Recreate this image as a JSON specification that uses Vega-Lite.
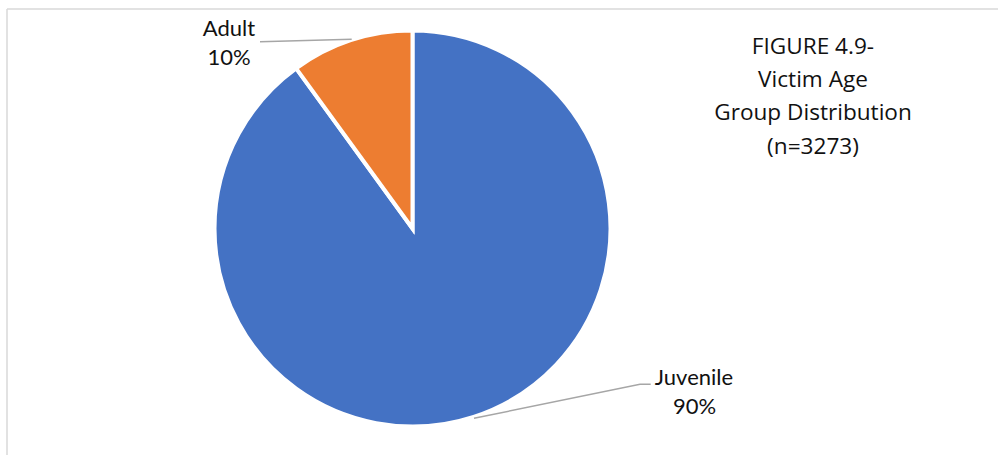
{
  "$schema": "https://vega.github.io/schema/vega-lite/v6.json",
  "width": 825,
  "height": 451,
  "autosize": {"type": "none"},
  "padding": {"left": 0, "top": 3, "right": 173, "bottom": 1},
  "background": "white",
  "config": {"view": {"stroke": null}},
  "datasets": {
    "slices": [
      {"group": "Juvenile", "value": 90},
      {"group": "Adult", "value": 10}
    ],
    "border": [
      {"side": "top", "x": -2.0689, "y": 1.1199, "x2": 2.99, "y2": 1.1199},
      {"side": "left", "x": -2.0689, "y": 1.1199, "x2": -2.0689, "y2": -1.17}
    ],
    "leaders": [
      {"grp": "Adult", "seq": 1, "x": -0.7781, "y": 0.9531},
      {"grp": "Adult", "seq": 2, "x": -0.3102, "y": 0.9653},
      {"grp": "Juvenile", "seq": 1, "x": 0.3138, "y": -0.9684},
      {"grp": "Juvenile", "seq": 2, "x": 1.1607, "y": -0.7949},
      {"grp": "Juvenile", "seq": 3, "x": 1.2153, "y": -0.7949}
    ],
    "labels": [
      {"text": "Adult", "x": -0.9362, "y": 1.0179},
      {"text": "10%", "x": -0.9362, "y": 0.8699},
      {"text": "Juvenile", "x": 1.4362, "y": -0.7628},
      {"text": "90%", "x": 1.4388, "y": -0.9107}
    ],
    "title": [
      {"text": "FIGURE 4.9-", "x": 2.0434, "y": 0.926},
      {"text": "Victim Age", "x": 2.0434, "y": 0.7577},
      {"text": "Group Distribution", "x": 2.0434, "y": 0.5893},
      {"text": "(n=3273)", "x": 2.0434, "y": 0.4158}
    ]
  },
  "layer": [
    {
      "data": {"name": "border"},
      "mark": {"type": "rule", "color": "#d9d9d9", "strokeWidth": 1.5},
      "encoding": {
        "x": {"field": "x", "type": "quantitative", "scale": {"domain": [-2.1046, 2.1046], "nice": false, "zero": false}, "axis": null},
        "y": {"field": "y", "type": "quantitative", "scale": {"domain": [-1.1505, 1.1505], "nice": false, "zero": false}, "axis": null},
        "x2": {"field": "x2"},
        "y2": {"field": "y2"}
      }
    },
    {
      "data": {"name": "slices"},
      "mark": {"type": "arc", "outerRadius": 198, "stroke": "white", "strokeWidth": 4},
      "encoding": {
        "theta": {"field": "value", "type": "quantitative", "stack": true},
        "order": {"field": "value", "type": "quantitative", "sort": "descending"},
        "color": {
          "field": "group",
          "type": "nominal",
          "scale": {"domain": ["Juvenile", "Adult"], "range": ["#4472C4", "#ED7D31"]},
          "legend": null
        }
      }
    },
    {
      "data": {"name": "leaders"},
      "mark": {"type": "line", "color": "#a6a6a6", "strokeWidth": 1.5},
      "encoding": {
        "x": {"field": "x", "type": "quantitative", "scale": {"domain": [-2.1046, 2.1046], "nice": false, "zero": false}, "axis": null},
        "y": {"field": "y", "type": "quantitative", "scale": {"domain": [-1.1505, 1.1505], "nice": false, "zero": false}, "axis": null},
        "detail": {"field": "grp", "type": "nominal"},
        "order": {"field": "seq", "type": "quantitative"}
      }
    },
    {
      "data": {"name": "labels"},
      "mark": {"type": "text", "font": "Lato", "fontSize": 22, "color": "#111111", "align": "center", "baseline": "middle"},
      "encoding": {
        "x": {"field": "x", "type": "quantitative", "scale": {"domain": [-2.1046, 2.1046], "nice": false, "zero": false}, "axis": null},
        "y": {"field": "y", "type": "quantitative", "scale": {"domain": [-1.1505, 1.1505], "nice": false, "zero": false}, "axis": null},
        "text": {"field": "text", "type": "nominal"}
      }
    },
    {
      "data": {"name": "title"},
      "mark": {"type": "text", "font": "Open Sans", "fontSize": 22.6, "color": "#111111", "align": "center", "baseline": "middle"},
      "encoding": {
        "x": {"field": "x", "type": "quantitative", "scale": {"domain": [-2.1046, 2.1046], "nice": false, "zero": false}, "axis": null},
        "y": {"field": "y", "type": "quantitative", "scale": {"domain": [-1.1505, 1.1505], "nice": false, "zero": false}, "axis": null},
        "text": {"field": "text", "type": "nominal"}
      }
    }
  ]
}
